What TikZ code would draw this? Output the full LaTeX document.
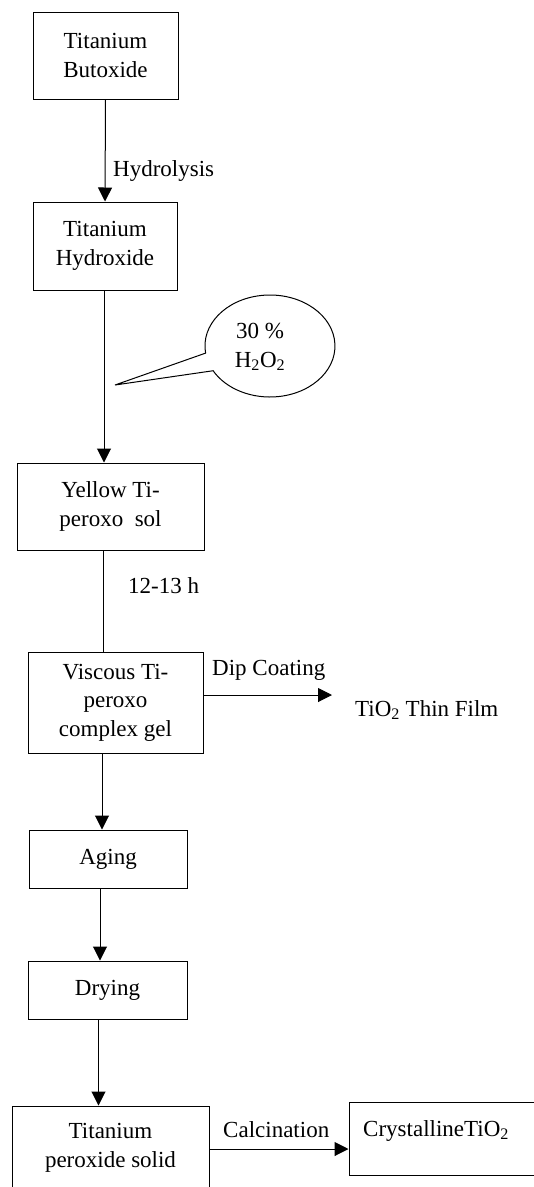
\documentclass[tikz,border=0pt]{standalone}
\usepackage{fontspec}
\setmainfont{Liberation Serif}
\usetikzlibrary{arrows.meta}
\begin{document}
\begin{tikzpicture}[x=1pt,y=-1pt,
  font=\fontsize{23}{28.5}\selectfont,
  stepbox/.style={draw, line width=1pt, rectangle, align=center, inner sep=0pt},
  lbl/.style={inner sep=0pt, anchor=base west},
  conn/.style={line width=1pt},
  arr/.style={conn, -{Triangle[length=14pt,width=14pt]}}]
\useasboundingbox (0,0) rectangle (534,1187);
\clip (0,0) rectangle (534,1187);
\fill[white] (0,0) rectangle (534,1187);

\node[stepbox, minimum width=145pt, minimum height=87pt] (b1) at (105.5,55.5) {Titanium\\Butoxide};
\node[stepbox, minimum width=144pt, minimum height=88pt] (b2) at (105,246) {Titanium\\Hydroxide};
\node[stepbox, minimum width=187pt, minimum height=87pt] (yel) at (110.5,506.5) {Yellow Ti-\\peroxo\ \ sol};
\node[stepbox, minimum width=175pt, minimum height=101pt] (visc) at (115.5,702.5) {Viscous Ti-\\peroxo\\complex gel};
\node[stepbox, minimum width=158pt, minimum height=58pt] (aging) at (108,859) {Aging};
\node[stepbox, minimum width=159pt, minimum height=58pt] (dry) at (107.5,990) {Drying};
\node[stepbox, minimum width=197pt, minimum height=84pt] (tps) at (110.5,1148) {Titanium\\peroxide solid};
\node[stepbox, minimum width=220pt, minimum height=73pt] (cry) at (459,1138.5) {};
\node[lbl] (crytxt) at (363,1136) {CrystallineTiO\textsubscript{2}};

% callout
\draw[conn] (115,385) -- (205.6,353.1) arc[start angle=172, end angle=511, x radius=65, y radius=51] -- cycle;
\node[align=center, inner sep=0pt] (h2o2) at (260,347) {30 \%\\H\textsubscript{2}O\textsubscript{2}};

% connectors
\draw[arr] (b1.south) -- (b2.north);
\node[lbl] (hyd) at (113,176) {Hydrolysis};
\draw[arr] ([xshift=-1pt]b2.south) -- ([xshift=-1pt]b2.south |- yel.north);
\draw[conn] ([xshift=-7.5pt]yel.south) -- ([xshift=-7.5pt]yel.south |- visc.north);
\node[lbl] (time) at (128,593) {12-13 h};
\coordinate (filmend) at (332,695);
\draw[arr] (visc.east |- filmend) -- (filmend);
\node[lbl] (dip) at (212,675) {Dip Coating};
\node[lbl] (film) at (355,716) {TiO\textsubscript{2} Thin Film};
\draw[arr] ([xshift=-13.5pt]visc.south) -- ([xshift=-13.5pt]visc.south |- aging.north);
\draw[arr] ([xshift=-8pt]aging.south) -- ([xshift=-8pt]aging.south |- dry.north);
\draw[arr] ([xshift=-9pt]dry.south) -- ([xshift=-9pt]dry.south |- tps.north);
\draw[arr] ([yshift=-1pt]tps.east) -- ([yshift=-1pt]tps.east -| cry.west);
\node[lbl] (calc) at (223,1137) {Calcination};
\end{tikzpicture}
\end{document}
